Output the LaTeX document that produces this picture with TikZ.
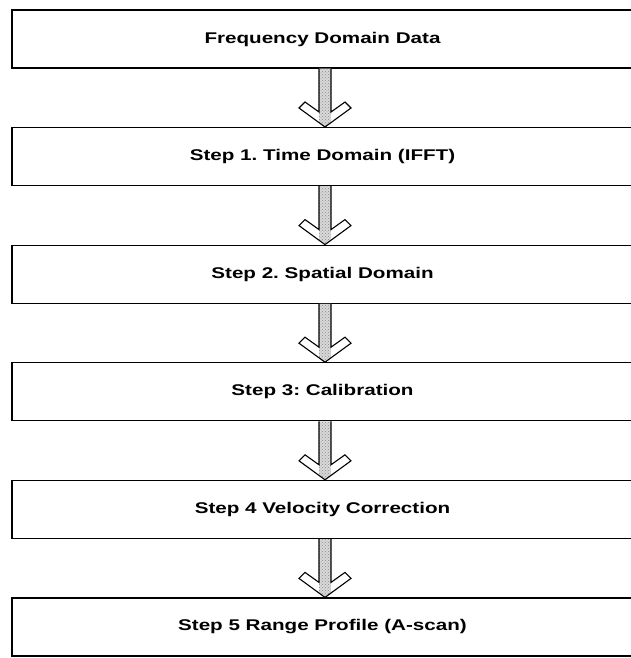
\documentclass[tikz,border=0pt]{standalone}
\usepackage{fontspec}
\newfontfamily\boxfont[FakeStretch=1.33]{Liberation Sans}
\usetikzlibrary{patterns,calc}
\frenchspacing
\tikzset{
  stepbox/.style={draw=black, line width=1.2pt, rectangle, minimum width=621pt, minimum height=58pt,
    inner sep=0pt, font=\boxfont\bfseries\fontsize{15.5}{18}\selectfont},
  arrline/.style={draw=black, line width=1.1pt, line join=miter},
}
\newcommand{\flowarrow}[2]{%
  \fill[white] let \p1=(#1.south), \p2=(#2.north) in
    (319pt,\y1) -- (319pt,\y2+15pt) -- (305pt,\y2+25pt) -- (299pt,\y2+19pt) -- (325pt,\y2)
    -- (351pt,\y2+19pt) -- (345pt,\y2+25pt) -- (331pt,\y2+15pt) -- (331pt,\y1) -- cycle;
  \begin{scope}
    \clip let \p1=(#1.south), \p2=(#2.north) in
      (319pt,\y1) -- (319pt,\y2+15pt) -- (305pt,\y2+25pt) -- (299pt,\y2+19pt) -- (325pt,\y2)
      -- (351pt,\y2+19pt) -- (345pt,\y2+25pt) -- (331pt,\y2+15pt) -- (331pt,\y1) -- cycle;
    \fill[gray!30] let \p1=(#1.south), \p2=(#2.north) in (319pt,\y1) rectangle (331pt,\y2);
    \fill[pattern=crosshatch dots, pattern color=gray!90] let \p1=(#1.south), \p2=(#2.north) in (319pt,\y1) rectangle (331pt,\y2);
  \end{scope}
  \draw[arrline] let \p1=(#1.south), \p2=(#2.north) in
    (319pt,\y1) -- (319pt,\y2+15pt) -- (305pt,\y2+25pt) -- (299pt,\y2+19pt) -- (325pt,\y2)
    -- (351pt,\y2+19pt) -- (345pt,\y2+25pt) -- (331pt,\y2+15pt) -- (331pt,\y1);
}
\begin{document}
\begin{tikzpicture}[x=1pt, y=-1pt]
  \useasboundingbox (0,0) rectangle (631,658);
  \fill[white] (0,0) rectangle (631,658);
  \begin{scope}
    \clip (0,0) rectangle (631,658);
    \node[stepbox] (b0) at (322.5,39)    {Frequency Domain Data};
    \node[stepbox] (b1) at (322.5,156.6) {Step 1. Time Domain (IFFT)};
    \node[stepbox] (b2) at (322.5,274.2) {Step 2. Spatial Domain};
    \node[stepbox] (b3) at (322.5,391.8) {Step 3: Calibration};
    \node[stepbox] (b4) at (322.5,509.4) {Step 4 Velocity Correction};
    \node[stepbox] (b5) at (322.5,627)   {Step 5 Range Profile (A-scan)};
    \flowarrow{b0}{b1}
    \flowarrow{b1}{b2}
    \flowarrow{b2}{b3}
    \flowarrow{b3}{b4}
    \flowarrow{b4}{b5}
  \end{scope}
\end{tikzpicture}
\end{document}
